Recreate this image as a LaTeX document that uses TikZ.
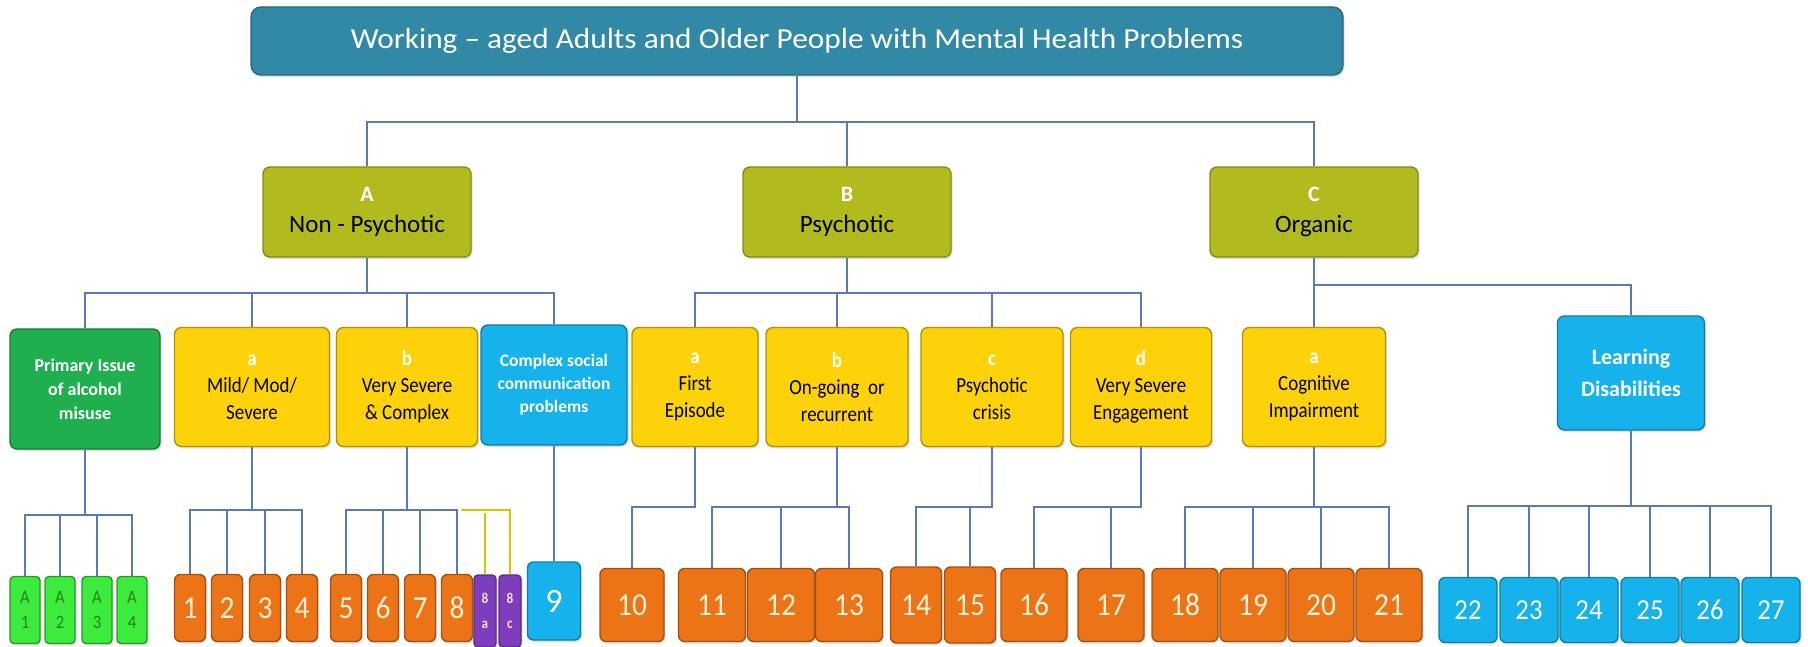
\documentclass[tikz,border=0pt]{standalone}
\usepackage{fontspec}
\setmainfont{Carlito}
\newfontfamily\tallfont{Carlito}[FakeStretch=0.88]
\newfontfamily\numfont{Carlito}[FakeStretch=0.92]
\newfontfamily\titlefont{Carlito}[FakeStretch=1.08]
\usetikzlibrary{shadows}
\definecolor{teal1}{HTML}{3189A6}
\definecolor{olive1}{HTML}{B2BB1E}
\definecolor{yel1}{HTML}{FDD208}
\definecolor{grn1}{HTML}{1FAF4F}
\definecolor{blu1}{HTML}{16B2EC}
\definecolor{org1}{HTML}{EC7316}
\definecolor{lgrn}{HTML}{3DEB3D}
\definecolor{dgrn}{HTML}{2A7F20}
\definecolor{pur1}{HTML}{7E3DBD}
\definecolor{lnc}{HTML}{5A7AB0}
\definecolor{brkc}{HTML}{D4C800}
\definecolor{cream}{HTML}{FFF2D6}
\tikzset{
  base/.style={rounded corners=7pt, line width=1.4pt, align=center, inner sep=0pt,
    drop shadow={opacity=0.25, shadow xshift=1.5pt, shadow yshift=-2pt}},
  topbox/.style={base, fill=teal1, draw=teal1!75!black, text=white, minimum width=1092pt,
    minimum height=68pt, rounded corners=10pt, font=\titlefont\fontsize{29}{34}\selectfont},
  catbox/.style={base, fill=olive1, draw=olive1!75!black, minimum width=208pt,
    minimum height=90pt, font=\fontsize{25}{31}\selectfont},
  yelbox/.style={base, fill=yel1, draw=yel1!70!black, minimum height=119pt,
    font=\tallfont\fontsize{21.5}{27}\selectfont},
  grnbox/.style={base, fill=grn1, draw=grn1!70!black, text=white, minimum height=120pt,
    font=\bfseries\fontsize{18}{24}\selectfont},
  blubox/.style={base, fill=blu1, draw=blu1!70!black, text=white, minimum height=120pt,
    font=\bfseries\fontsize{17.5}{23}\selectfont},
  numbox/.style={base, fill=org1, draw=org1!70!black, text=cream, minimum height=73pt,
    rounded corners=6pt, font=\numfont\fontsize{32}{32}\selectfont},
  agbox/.style={base, fill=lgrn, draw=lgrn!65!black, text=dgrn, minimum width=30pt,
    minimum height=67pt, rounded corners=4pt, font=\tallfont\fontsize{19}{25}\selectfont},
  purbox/.style={base, fill=pur1, draw=pur1!70!black, text=white!85!pur1, minimum width=22pt,
    minimum height=72pt, rounded corners=4pt, font=\tallfont\bfseries\fontsize{15}{25}\selectfont},
  bnum/.style={base, fill=blu1, draw=blu1!70!black, text=white, minimum width=58pt,
    minimum height=65pt, rounded corners=6pt, font=\numfont\fontsize{29}{30}\selectfont},
  link/.style={draw=lnc, line width=1.3pt},
  brk/.style={draw=brkc, line width=1.6pt}
}
\newcommand\lett[1]{{\color{white}\bfseries #1}}
\begin{document}
\begin{tikzpicture}[x=1pt, y=-1pt]
\useasboundingbox[fill=white] (0,0) rectangle (1808,647);

% top
\node[topbox] (top) at (797,41) {Working – aged Adults and Older People with Mental Health Problems};

% categories
\node[catbox] (A) at (367,212) {\lett{\fontsize{22}{31}\selectfont A}\\Non - Psychotic};
\node[catbox] (B) at (847,212) {\lett{\fontsize{22}{31}\selectfont B}\\Psychotic};
\node[catbox] (C) at (1314,212) {\lett{\fontsize{22}{31}\selectfont C}\\Organic};

% second row
\node[grnbox, minimum width=150pt] (alc) at (85,389) {Primary Issue\\of alcohol\\misuse};
\node[yelbox, minimum width=155pt] (mild) at (252,387) {\lett{a}\\Mild/ Mod/\\Severe};
\node[yelbox, minimum width=141pt] (sev) at (407,387) {\lett{b}\\Very Severe\\\& Complex};
\node[blubox, minimum width=146pt] (cx) at (554,385) {Complex social\\communication\\problems};
\node[yelbox, minimum width=126pt] (fe) at (695,387) {\lett{a}\\First\\Episode};
\node[yelbox, minimum width=142pt] (og) at (837,387) {\lett{b}\\On-going\ \ or\\recurrent};
\node[yelbox, minimum width=142pt] (pc) at (992,387) {\lett{c}\\Psychotic\\crisis};
\node[yelbox, minimum width=141pt] (ve) at (1141,387) {\lett{d}\\Very Severe\\Engagement};
\node[yelbox, minimum width=143pt] (cog) at (1314,387) {\lett{a}\\Cognitive\\Impairment};
\node[blubox, minimum width=147pt, minimum height=114pt, font=\bfseries\fontsize{22}{32}\selectfont] (ld) at (1631,373) {Learning\\Disabilities};

% bottom row
\node[agbox] (a1) at (25,610) {A\\1};
\node[agbox] (a2) at (60,610) {A\\2};
\node[agbox] (a3) at (97,610) {A\\3};
\node[agbox] (a4) at (132,610) {A\\4};
\foreach \n/\x in {1/190,2/227,3/265,4/302,5/346,6/383,7/420,8/457}
  \node[numbox, minimum width=31pt, minimum height=67pt] (n\n) at (\x,608) {\n};
\node[purbox] (n8a) at (485,611) {8\\a};
\node[purbox] (n8c) at (510,611) {8\\c};
\node[numbox, fill=blu1, draw=blu1!70!black, text=white, minimum width=53pt, minimum height=78pt,
  font=\fontsize{34}{34}\selectfont] (n9) at (554,601) {9};
\node[numbox, minimum width=64pt] (n10) at (632,605) {10};
\foreach \n/\x in {11/712,12/781,13/849}
  \node[numbox, minimum width=67pt] (n\n) at (\x,605) {\n};
\foreach \n/\x in {14/916,15/970}
  \node[numbox, minimum width=51pt, minimum height=76pt] (n\n) at (\x,605) {\n};
\foreach \n/\x in {16/1034,17/1111,18/1185,19/1253,20/1321,21/1389}
  \node[numbox, minimum width=66pt] (n\n) at (\x,605) {\n};
\foreach \n/\x in {22/1468,23/1529,24/1589,25/1650,26/1710,27/1771}
  \node[bnum] (n\n) at (\x,610) {\n};

% bus levels
\coordinate (b0) at (0,122);
\coordinate (bA) at (0,293);
\coordinate (bC) at (0,285);
\coordinate (bAlc) at (0,515);
\coordinate (bLow) at (0,510);
\coordinate (bMid) at (0,507);
\coordinate (bLD) at (0,506);

% connectors
\foreach \c in {A,B,C}
  \draw[link] (top.south) -- (top.south |- b0) -| (\c.north);
\foreach \c in {alc,mild,sev,cx}
  \draw[link] (A.south) -- (A.south |- bA) -| (\c.north);
\foreach \c in {fe,og,pc,ve}
  \draw[link] (B.south) -- (B.south |- bA) -| (\c.north);
\draw[link] (C.south) -- (cog.north);
\draw[link] (C.south |- bC) -| (ld.north);
\foreach \c in {a1,a2,a3,a4}
  \draw[link] (alc.south) -- (alc.south |- bAlc) -| (\c.north);
\foreach \c in {n1,n2,n3,n4}
  \draw[link] (mild.south) -- (mild.south |- bLow) -| (\c.north);
\foreach \c in {n5,n6,n7,n8}
  \draw[link] (sev.south) -- (sev.south |- bLow) -| (\c.north);
\draw[link] (cx.south) -- (n9.north);
\draw[link] (fe.south) -- (fe.south |- bMid) -| (n10.north);
\foreach \c in {n11,n12,n13}
  \draw[link] (og.south) -- (og.south |- bMid) -| (\c.north);
\foreach \c in {n14,n15}
  \draw[link] (pc.south) -- (pc.south |- bMid) -| (\c.north);
\foreach \c in {n16,n17}
  \draw[link] (ve.south) -- (ve.south |- bMid) -| (\c.north);
\foreach \c in {n18,n19,n20,n21}
  \draw[link] (cog.south) -- (cog.south |- bMid) -| (\c.north);
\foreach \c in {n22,n23,n24,n25,n26,n27}
  \draw[link] (ld.south) -- (ld.south |- bLD) -| (\c.north);
\coordinate (y8a) at (485,513);
\draw[brk] ([xshift=4pt]n8.north |- bLow) -| (n8c.north);
\draw[brk] (y8a) -- (n8a.north);
\end{tikzpicture}
\end{document}
